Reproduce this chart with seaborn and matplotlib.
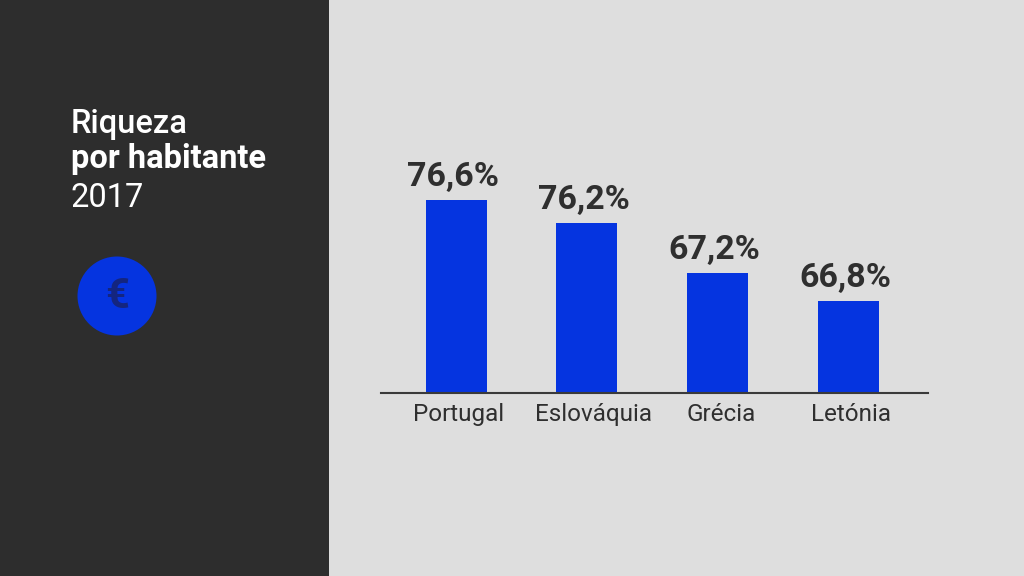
import matplotlib
matplotlib.use("Agg")
import matplotlib.pyplot as plt
from matplotlib.patches import Rectangle, Ellipse
from matplotlib.transforms import ScaledTranslation
import seaborn as sns
import pandas as pd

countries = ["Portugal", "Eslováquia", "Grécia", "Letónia"]
value_labels = ["76,6%", "76,2%", "67,2%", "66,8%"]
# The drawn bars do not follow one linear scale of the printed values,
# so their heights are read off the picture separately.
bar_heights = [193, 170, 120, 92]

PANEL = "#2d2d2d"
BG = "#dedede"
BLUE = "#0534e0"
TEXT = "#2f2f2f"

sns.set_theme(style="white")
plt.rcParams["font.family"] = ["Roboto", "DejaVu Sans"]

W, H = 1024, 576
fig = plt.figure(figsize=(W / 100, H / 100), dpi=100, facecolor=BG)
fig.add_artist(Rectangle((0, 0), 329 / W, 1, transform=fig.transFigure, color=PANEL, lw=0))

ax = fig.add_axes([381 / W, (H - 393) / H, 547 / W, 243 / H])
ax.patch.set_alpha(0)
df = pd.DataFrame({"country": countries, "height": bar_heights})
sns.barplot(data=df, x="country", y="height", color=BLUE, saturation=1, width=0.467,
            linewidth=0, edgecolor="none", ax=ax)
ax.set_xlim(-0.574, 3.61)
ax.set_ylim(0, 243)
ax.set_xlabel("")
ax.set_ylabel("")
ax.set_yticks([])
for s in ["top", "left", "right"]:
    ax.spines[s].set_visible(False)
ax.spines["bottom"].set_color("#3a3a3a")
ax.spines["bottom"].set_linewidth(1.5)
ax.tick_params(axis="x", length=0, pad=7, labelsize=17.5, labelcolor=TEXT)

for lbl, dx in zip(ax.get_xticklabels(), [3, 7, 4, 3]):
    lbl.set_transform(lbl.get_transform() + ScaledTranslation(dx / 100, 0, fig.dpi_scale_trans))

for bar, lab in zip(ax.patches, value_labels):
    ax.annotate(lab, (bar.get_x() + bar.get_width() / 2, bar.get_height()),
                xytext=(-2, 5), textcoords="offset points", ha="center", va="bottom",
                fontsize=24.5, fontweight="bold", color=TEXT)

fig.text(71 / W, 1 - 133 / H, "Riqueza", color="white", fontsize=23.5, fontweight="medium", va="baseline")
fig.text(71 / W, 1 - 168 / H, "por habitante", color="white", fontsize=23.5, fontweight="bold", va="baseline")
fig.text(71 / W, 1 - 207 / H, "2017", color="white", fontsize=23.5, va="baseline")

fig.add_artist(Ellipse((117 / W, 1 - 296 / H), 79 / W, 79 / H, transform=fig.transFigure, color=BLUE, lw=0))
fig.text(117 / W, 1 - 296 / H, "€", color="#14257f", fontsize=30, fontweight="bold", ha="center", va="center")

fig.savefig("out.png", dpi=100, facecolor=BG)
